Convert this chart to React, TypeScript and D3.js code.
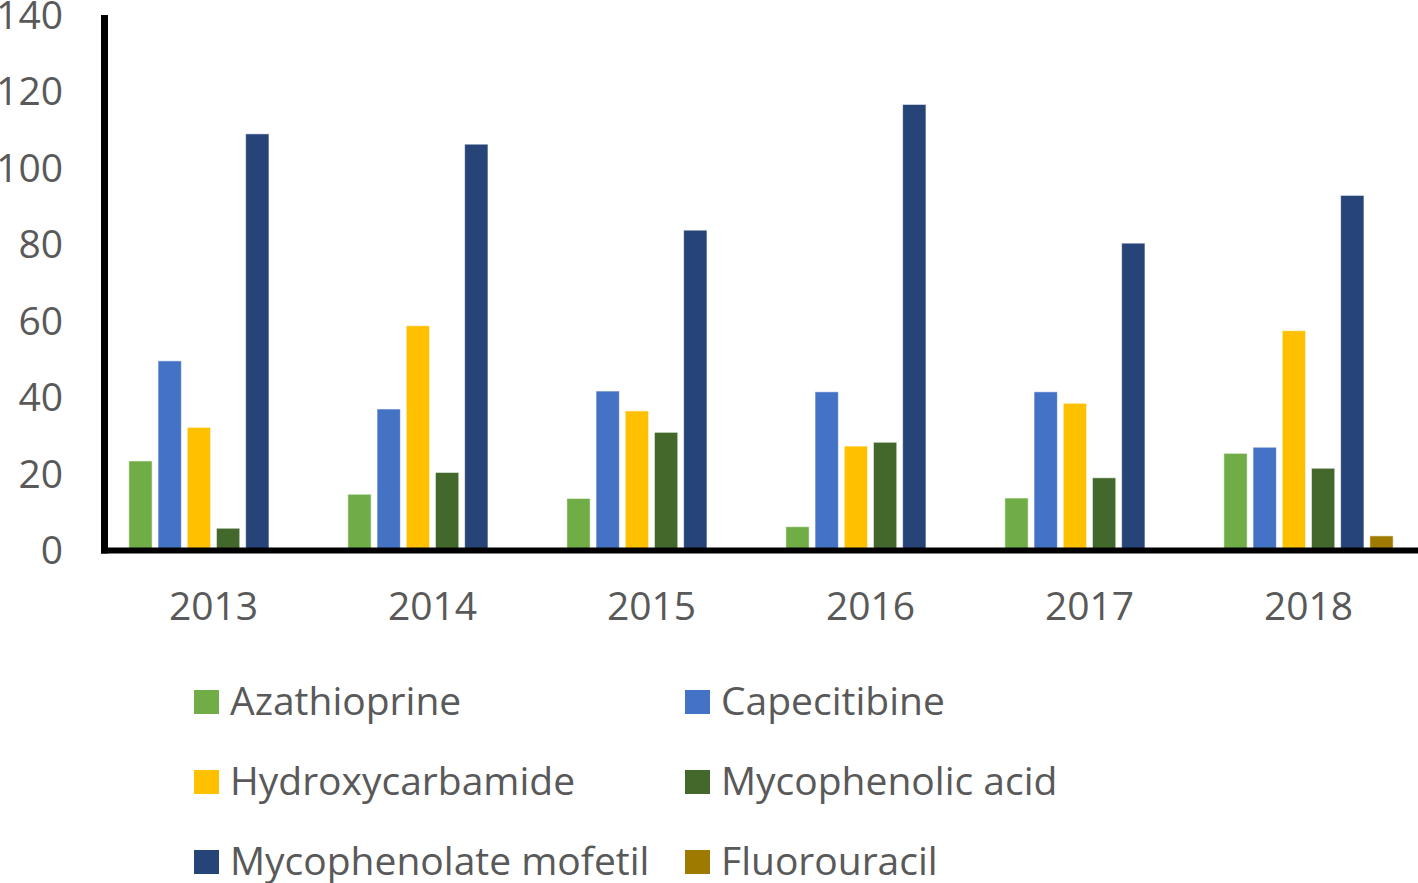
import React from "react";
import * as d3 from "d3";

const years = ["2013", "2014", "2015", "2016", "2017", "2018"];
const seriesNames = [
  "Azathioprine",
  "Capecitibine",
  "Hydroxycarbamide",
  "Mycophenolic acid",
  "Mycophenolate mofetil",
  "Fluorouracil",
];
const azathioprine = [23.3, 14.6, 13.5, 6.1, 13.6, 25.3];
const capecitibine = [49.5, 36.9, 41.6, 41.4, 41.4, 26.9];
const hydroxycarbamide = [32.1, 58.7, 36.4, 27.2, 38.4, 57.4];
const mycophenolicAcid = [5.7, 20.3, 30.8, 28.2, 18.9, 21.4];
const mycophenolateMofetil = [108.9, 106.2, 83.7, 116.6, 80.3, 92.8];
const fluorouracil = [0, 0, 0, 0, 0.3, 3.7];
const yTicks = [0, 20, 40, 60, 80, 100, 120, 140];
const colors = ["#70AD47", "#4472C4", "#FFC000", "#43682B", "#264478", "#9E7A00"];

const seriesValues = [
  azathioprine,
  capecitibine,
  hydroxycarbamide,
  mycophenolicAcid,
  mycophenolateMofetil,
  fluorouracil,
];

export default function App() {
  const W = 1418;
  const H = 883;
  const FONT = "'Open Sans', 'Noto Sans', sans-serif";
  const FS = 39;
  const textColor = "#595959";

  const x0 = d3.scaleBand<string>().domain(years).range([104, 1418]).paddingInner(0).paddingOuter(0);
  const x1 = d3
    .scaleBand<string>()
    .domain(seriesNames)
    .range([0, x0.bandwidth()])
    .paddingInner(0.2)
    .paddingOuter(0.85);
  const y = d3.scaleLinear().domain([0, 140]).range([550, 15]);

  const legendCols = [194, 685];
  const legendRowY = [690, 770, 850];

  return (
    <div style={{ position: "absolute", left: 0, top: 0 }}>
      <svg width={W} height={H} style={{ display: "block", background: "#fff" }}>
        {years.map((yr, i) => (
          <g key={yr} transform={`translate(${x0(yr)},0)`}>
            {seriesNames.map((s, j) => {
              const v = seriesValues[j][i];
              if (v <= 0) return null;
              return (
                <rect
                  key={s}
                  x={x1(s)}
                  y={y(v)}
                  width={x1.bandwidth()}
                  height={y(0) - y(v)}
                  fill={colors[j]}
                  stroke="rgba(255,255,255,0.6)"
                  strokeWidth={1}
                />
              );
            })}
          </g>
        ))}

        <line x1={104.5} x2={104.5} y1={15} y2={553.5} stroke="#000" strokeWidth={7} />
        <line x1={101} x2={1418} y1={550.5} y2={550.5} stroke="#000" strokeWidth={6} />

        {yTicks.map((t) => (
          <text
            key={t}
            x={63}
            y={y(t)}
            dy="0.36em"
            textAnchor="end"
            fontFamily={FONT}
            fontSize={FS}
            fill={textColor}
          >
            {t}
          </text>
        ))}

        {years.map((yr) => (
          <text
            key={yr}
            x={(x0(yr) as number) + x0.bandwidth() / 2}
            y={620}
            textAnchor="middle"
            fontFamily={FONT}
            fontSize={FS}
            fill={textColor}
          >
            {yr}
          </text>
        ))}

        {seriesNames.map((s, j) => {
          const cx = legendCols[j % 2];
          const ry = legendRowY[Math.floor(j / 2)];
          return (
            <g key={s}>
              <rect x={cx} y={ry} width={25} height={24} fill={colors[j]} />
              <text
                x={cx + 36}
                y={ry + 25}
                fontFamily={FONT}
                fontSize={FS}
                fill={textColor}
              >
                {s}
              </text>
            </g>
          );
        })}
      </svg>
    </div>
  );
}
